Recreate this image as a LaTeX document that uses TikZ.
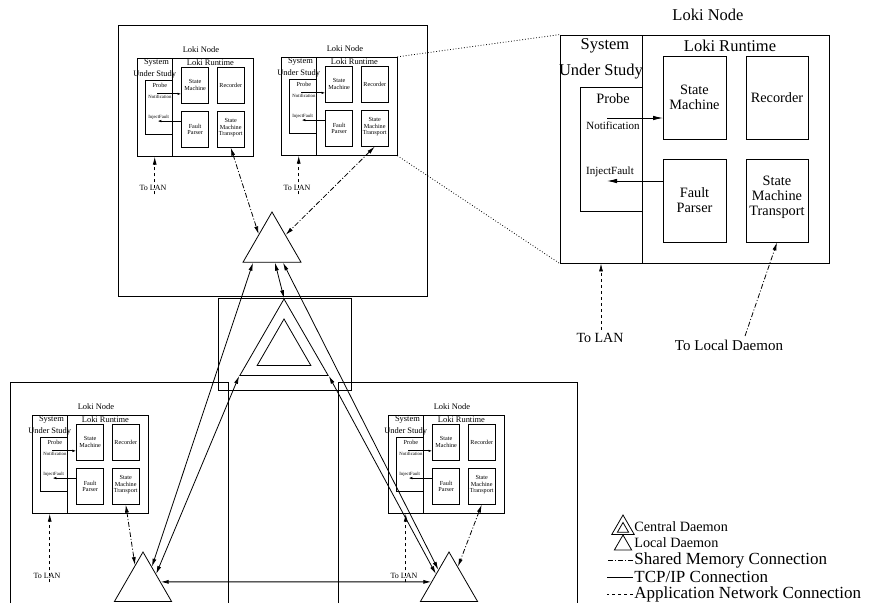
\documentclass[tikz,border=0pt]{standalone}
\usepackage{fontspec}
\setmainfont{Liberation Serif}
\usetikzlibrary{arrows.meta, shapes.geometric, positioning}

\tikzset{
  box/.style={draw, rectangle, inner sep=0pt},
  hdr/.style={font=\fontsize{16.5}{19}\selectfont},
  lbl/.style={font=\fontsize{14.3}{15}\selectfont, align=center},
  tiny/.style={font=\fontsize{11}{13}\selectfont},
  probetip/.style={-{Latex[length=10pt,width=4.5pt]}},
  mini/.style={scale=0.432, transform shape,
    hdr/.style={font=\fontsize{19.5}{22}\selectfont},
    probetip/.style={-{Latex[length=4pt,width=2.5pt]}}},
  daemon/.style={draw, regular polygon, regular polygon sides=3, inner sep=0pt},
  shm/.style={dash pattern=on 5pt off 2pt on 1pt off 2pt},
  tcp/.style={{Latex[length=8pt,width=4pt]}-{Latex[length=8pt,width=4pt]}},
  lan/.style={dashed, -{Latex[length=8pt,width=4pt]}},
  zoomline/.style={dotted},
  legend/.style={font=\fontsize{17}{19}\selectfont, anchor=west, inner sep=1pt},
  legendsm/.style={legend, font=\fontsize{14.2}{16}\selectfont},
  lanlbl/.style={font=\fontsize{8}{9}\selectfont},
  pics/lokinode/.style={code={
    % frame, system under study, probe
    \node[box, minimum width=269pt, minimum height=228pt] (-outer) at (134.5,114) {};
    \node[box, minimum width=82pt, minimum height=228pt] (-sus) at (41,114) {};
    \node[box, minimum width=62pt, minimum height=124pt] (-probe) at (51,114) {};
    \node[hdr] (-title) at (148,-20) {Loki Node};
    \node[hdr] at (45,11) {System};
    \node[hdr] at (41,37) {Under Study};
    \node[hdr] at (170,11) {Loki Runtime};
    \node[lbl] at (53,64) {Probe};
    % runtime parts
    \node[box, lbl, minimum width=63pt, minimum height=83pt] (-sm) at (134.5,62.5) {State\\Machine};
    \node[box, lbl, minimum width=62pt, minimum height=83pt] (-rec) at (217,62.5) {Recorder};
    \node[box, lbl, minimum width=63pt, minimum height=83pt] (-fp) at (134.5,165.5) {Fault\\Parser};
    \node[box, lbl, minimum width=62pt, minimum height=83pt] (-smt) at (217,165.5) {};
    \node[lbl] at (217,162) {State\\Machine\\Transport};
    % probe events
    \node[tiny] at (53,91) {Notification};
    \node[tiny] at (50,137) {InjectFault};
    \coordinate (-ntf) at (47,83);
    \coordinate (-ntfend) at (103,83);
    \coordinate (-inj) at (47,146);
    \coordinate (-injstart) at (103,146);
    \draw[probetip] (-ntf) -- (-ntfend);
    \draw[probetip] (-injstart) -- (-inj);
  }}
}

\begin{document}
\begin{tikzpicture}[x=1pt, y=-1pt, line width=0.8pt,
  >={Latex[length=8pt,width=4pt]}]
\useasboundingbox (0,0) rectangle (869,603);

% daemon regions
\draw (118,25) rectangle (427,296);
\draw (218,298) rectangle (351,390);
\draw (10,603) -- (10,382) -- (228,382) -- (228,603);
\draw (338,603) -- (338,382) -- (577,382) -- (577,603);

% loki nodes
\pic[mini] (tl) at (137,58) {lokinode};
\pic[mini] (tr) at (281,57) {lokinode};
\pic[mini] (bl) at (32,415) {lokinode};
\pic[mini] (br) at (388,415) {lokinode};
\pic (big) at (560,35) {lokinode};

% daemons
\node[daemon, minimum size=67pt] (topd) at (272,245.5) {};
\node[daemon, minimum size=66pt] (bld) at (143,585) {};
\node[daemon, minimum size=66pt] (brd) at (449,585) {};
\node[daemon, minimum size=102pt] (cen) at (284,350) {};
\node[daemon, minimum size=62pt] (ceni) at (284,350) {};

% to LAN
\node[lanlbl] (tl-lan) at (153,188) {To LAN};
\node[lanlbl] (tr-lan) at (297,188) {To LAN};
\node[lanlbl] (bl-lan) at (47,576) {To LAN};
\node[lanlbl] (br-lan) at (404,576) {To LAN};
\node[font=\fontsize{14}{16}\selectfont] (big-lan) at (600,338) {To LAN};
\node[font=\fontsize{15}{17}\selectfont] (big-ld) at (729,345) {To Local Daemon};
\foreach \n in {tl,tr,bl,br}
  \draw[lan] (\n-lan.south -| \n-sus.south) -- (\n-sus.south);
\draw[lan] (big-lan.north -| big-sus.south) -- (big-sus.south);

% shared memory
\draw[shm, <->] (tl-smt.south) -- (topd.140);
\draw[shm, <->] (tr-smt.south) -- (topd.38);
\draw[shm, <->] (bl-smt.south) -- (bld.112);
\draw[shm, <->] (br-smt.south) -- (brd.64);
\draw[shm, ->] ([xshift=16pt]big-ld.north) -- (big-smt.south);

% tcp/ip
\draw[tcp] ([xshift=-19pt]topd.south) -- (bld.64);
\draw[tcp] ([xshift=3pt]topd.south) -- (cen.north);
\draw[tcp] ([xshift=11pt]topd.south) -- (brd.125);
\draw[tcp] (cen.corner 2) -- (bld.40);
\draw[tcp] (cen.corner 3) -- (brd.140);
\draw[tcp] (bld.10) -- (brd.170);

% zoom lines
\draw[zoomline] (tr-outer.north east) -- (big-outer.north west);
\draw[zoomline] (tr-outer.south east) -- (big-outer.south west);

% legend
\node[daemon, minimum size=26pt] (lg-cen) at (623,528) {};
\node[daemon, minimum size=13pt] (lg-ceni) at (623,529) {};
\node[legendsm] (lg-centxt) at (633,527) {Central Daemon};
\node[daemon, minimum size=20pt] (lg-loc) at (623,545) {};
\node[legendsm] (lg-loctxt) at (633,543) {Local Daemon};
\node[legend] (lg-shm) at (633,560) {Shared Memory Connection};
\node[legend] (lg-tcp) at (633,577) {TCP/IP Connection};
\node[legend] (lg-lan) at (633,594) {Application Network Connection};
\draw[shm] (lg-shm.west) -- ++(-26,0);
\draw (lg-tcp.west) -- ++(-26,0);
\draw[dashed] (lg-lan.west) -- ++(-26,0);
\end{tikzpicture}
\end{document}
